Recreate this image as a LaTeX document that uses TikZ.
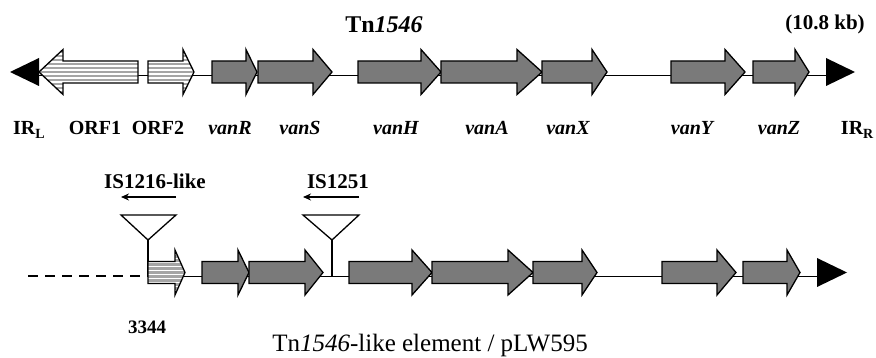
\documentclass[tikz,border=0pt]{standalone}
\usepackage{fontspec}
\setmainfont{Liberation Serif}
\usetikzlibrary{arrows.meta}
\definecolor{geneg}{RGB}{122,122,122}
\definecolor{stripeg}{RGB}{165,165,165}
\tikzset{
  geneline/.style={draw=black, line width=1.3pt, line join=miter},
  backbone/.style={line width=1.2pt},
  lab/.style={font=\fontsize{20}{22}\selectfont\bfseries, anchor=base, inner sep=0pt},
  vlab/.style={font=\fontsize{20}{22}\selectfont\bfseries\itshape, anchor=base, inner sep=0pt},
  isarrow/.style={line width=1.3pt, -{Stealth[length=8pt,width=7pt]}},
  insert/.style={draw=black, fill=white, line width=1.3pt, line join=miter}
}
% #1 body end, #2 head base, #3 tip, #4 centre y
\newcommand\grayGene[4]{%
  \fill[geneg] (#1,#4-11) -- (#2,#4-11) -- (#2,#4-22.5) -- (#3,#4) -- (#2,#4+22.5) -- (#2,#4+11) -- (#1,#4+11) -- cycle;
  \draw[geneline] (#1,#4-11) -- (#2,#4-11) -- (#2,#4-22.5) -- (#3,#4) -- (#2,#4+22.5) -- (#2,#4+11) -- (#1,#4+11) -- cycle;}
\newcommand\stripeGene[4]{%
  \begin{scope}
    \clip (#1,#4-11) -- (#2,#4-11) -- (#2,#4-22.5) -- (#3,#4) -- (#2,#4+22.5) -- (#2,#4+11) -- (#1,#4+11) -- cycle;
    \fill[white] (0,#4-25) rectangle (876,#4+25);
    \foreach \k in {-6,...,6} \draw[stripeg, line width=2.3pt] (0,#4+\k*4) -- (876,#4+\k*4);
  \end{scope}
  \draw[geneline] (#1,#4-11) -- (#2,#4-11) -- (#2,#4-22.5) -- (#3,#4) -- (#2,#4+22.5) -- (#2,#4+11) -- (#1,#4+11) -- cycle;}
\begin{document}
\begin{tikzpicture}[x=1pt,y=-1pt]
\useasboundingbox (0,0) rectangle (876,358);
% ---------- top: Tn1546 ----------
\node[font=\fontsize{24}{26}\selectfont\bfseries, anchor=base, inner sep=0pt] (title) at (384,33) {Tn\textit{1546}};
\node[font=\fontsize{21}{23}\selectfont\bfseries, anchor=base, inner sep=0pt] (size) at (825,30) {(10.8 kb)};
\draw[backbone] (39,75.5) -- (826,75.5);
\fill[black] (10,72) -- (39,58) -- (39,86) -- cycle;
\fill[black] (826,58) -- (855,72) -- (826,86) -- cycle;
\stripeGene{138}{63}{39}{72}
\stripeGene{148}{183}{194}{72}
\grayGene{212}{246}{257}{72}
\grayGene{258}{313}{332}{72}
\grayGene{358}{421}{441}{72}
\grayGene{441}{517}{542}{72}
\grayGene{542}{592}{607}{72}
\grayGene{671}{725}{745}{72}
\grayGene{753}{795}{809}{72}
% labels
\node[lab, anchor=base west] (irl) at (13,135) {IR\textsubscript{L}};
\node[lab] (orf1) at (95,135) {ORF1};
\node[lab] (orf2) at (158,135) {ORF2};
\node[vlab] (vanR) at (230,135) {vanR};
\node[vlab] (vanS) at (300,135) {vanS};
\node[vlab] (vanH) at (396,135) {vanH};
\node[vlab] (vanA) at (487,135) {vanA};
\node[vlab] (vanX) at (568,135) {vanX};
\node[vlab] (vanY) at (692,135) {vanY};
\node[vlab] (vanZ) at (779,135) {vanZ};
\node[lab, anchor=base east] (irr) at (874,135) {IR\textsubscript{R}};
% ---------- bottom: pLW595 ----------
\node[lab, font=\fontsize{21}{23}\selectfont\bfseries] (is1216) at (155,189) {IS1216-like};
\node[lab, font=\fontsize{21}{23}\selectfont\bfseries] (is1251) at (338,189) {IS1251};
\coordinate (a1s) at (176,197); \coordinate (a1e) at (121,197);
\coordinate (a2s) at (359,197); \coordinate (a2e) at (303,197);
\draw[isarrow] (a1s) -- (a1e);
\draw[isarrow] (a2s) -- (a2e);
\draw[line width=2pt, dash pattern=on 10pt off 7pt] (28,276.5) -- (148,276.5);
\draw[backbone] (148,276.5) -- (817,276.5);
\draw[line width=1.3pt] (148,240) -- (148,276.5);
\draw[line width=1.3pt] (332,240) -- (332,276.5);
\draw[insert] (121,215) -- (176,215) -- (148,240) -- cycle;
\draw[insert] (303,215) -- (359,215) -- (332,240) -- cycle;
\stripeGene{148}{175}{185}{272.5}
\grayGene{202}{238}{249}{272.5}
\grayGene{249}{305}{323}{272.5}
\grayGene{349}{412}{432}{272.5}
\grayGene{432}{508}{533}{272.5}
\grayGene{533}{582}{597}{272.5}
\grayGene{662}{717}{736}{272.5}
\grayGene{743}{787}{800}{272.5}
\fill[black] (817,258) -- (847,272.5) -- (817,287) -- cycle;
\node[lab, font=\fontsize{19}{21}\selectfont\bfseries] (pos) at (147,333) {3344};
\node[font=\fontsize{25}{27}\selectfont, anchor=base, inner sep=0pt] (btitle) at (430,351) {Tn\textit{1546}-like element / pLW595};
\end{tikzpicture}
\end{document}
